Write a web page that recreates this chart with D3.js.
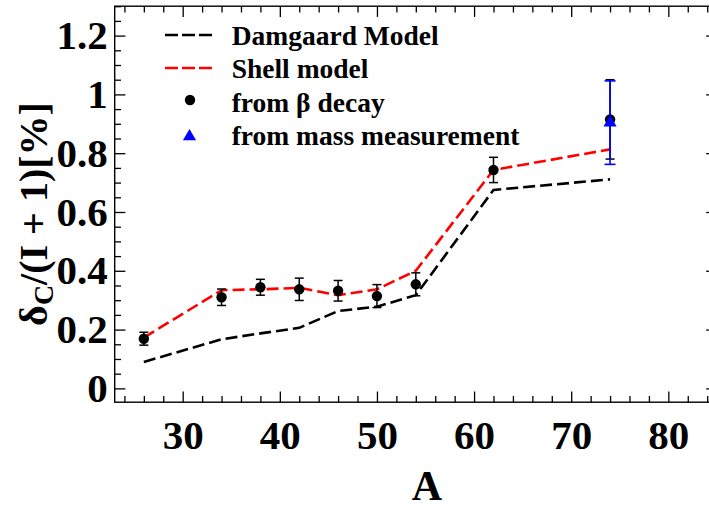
<!DOCTYPE html>
<html>
<head>
<meta charset="utf-8">
<script src="https://cdn.jsdelivr.net/npm/d3@7"></script>
<style>
  body { margin: 0; background: #fff; }
  svg { display: block; font-family: "Liberation Serif", "Times New Roman", serif; font-weight: bold; }
</style>
</head>
<body>
<script>
// mass numbers where the models and the data sit
var massA = [26, 34, 38, 42, 46, 50, 54, 62, 74];
var damgaardValues = [0.090, 0.167, 0.187, 0.206, 0.263, 0.278, 0.317, 0.675, 0.711];
var shellValues = [0.173, 0.334, 0.337, 0.342, 0.317, 0.337, 0.400, 0.743, 0.813];
var betaValues = [0.169, 0.310, 0.344, 0.337, 0.332, 0.314, 0.354, 0.743, 0.915];
var betaErrors = [0.022, 0.028, 0.027, 0.038, 0.035, 0.039, 0.039, 0.043, 0.135];
var massMeasA = [74];
var massMeasValues = [0.904];
var massMeasErrors = [0.142];

var xMajorTicks = [30, 40, 50, 60, 70, 80];
var yMajorTicks = [0, 0.2, 0.4, 0.6, 0.8, 1, 1.2];
var legendLabels = ['Damgaard Model', 'Shell model', 'from \u03b2 decay', 'from mass measurement'];

var width = 709, height = 508;
var plotLeft = 114.7, plotRight = 716.9, plotTop = 6.2, plotBottom = 402.2;

var svg = d3.select('body').append('svg').attr('width', width).attr('height', height);

var x = d3.scaleLinear().domain([23, 85]).range([plotLeft, plotRight]);
var y = d3.scaleLinear().domain([-0.047, 1.3]).range([plotBottom, plotTop]);

var xMinor = d3.range(24, 86, 2).filter(function(v) { return v % 10 !== 0; });
var yMinor = d3.range(0, 27).map(function(i) { return +(i * 0.05).toFixed(2); })
  .filter(function(v) { return Math.abs(v * 5 - Math.round(v * 5)) > 1e-6; });

var fmtY = function(d) { return d === 0 ? '0' : d === 1 ? '1' : String(d); };

function drawAxis(axis, tr, labels) {
  var g = svg.append('g').attr('transform', tr).call(axis);
  g.attr('font-family', null).attr('font-size', null);
  g.select('.domain').remove();
  g.selectAll('line').attr('stroke', '#000').attr('stroke-width', 1.3);
  if (labels) {
    g.selectAll('text').attr('font-size', 41).attr('fill', '#000');
  } else {
    g.selectAll('text').remove();
  }
  return g;
}

// bottom + top
drawAxis(d3.axisBottom(x).tickValues(xMajorTicks).tickSize(-10.7).tickPadding(18).tickFormat(d3.format('d')), 'translate(0,' + plotBottom + ')', true);
drawAxis(d3.axisBottom(x).tickValues(xMinor).tickSize(-6.3), 'translate(0,' + plotBottom + ')', false);
drawAxis(d3.axisTop(x).tickValues(xMajorTicks).tickSize(-10.7), 'translate(0,' + plotTop + ')', false);
drawAxis(d3.axisTop(x).tickValues(xMinor).tickSize(-6.3), 'translate(0,' + plotTop + ')', false);
// left + right
drawAxis(d3.axisLeft(y).tickValues(yMajorTicks).tickSize(-10.7).tickPadding(7).tickFormat(fmtY), 'translate(' + plotLeft + ',0)', true);
drawAxis(d3.axisLeft(y).tickValues(yMinor).tickSize(-6.3), 'translate(' + plotLeft + ',0)', false);
drawAxis(d3.axisRight(y).tickValues(yMajorTicks).tickSize(-10.7), 'translate(' + plotRight + ',0)', false);
drawAxis(d3.axisRight(y).tickValues(yMinor).tickSize(-6.3), 'translate(' + plotRight + ',0)', false);

svg.append('rect')
  .attr('x', plotLeft).attr('y', plotTop)
  .attr('width', plotRight - plotLeft).attr('height', plotBottom - plotTop)
  .attr('fill', 'none').attr('stroke', '#000').attr('stroke-width', 1.4);

// model curves
var line = d3.line().x(function(d) { return x(d[0]); }).y(function(d) { return y(d[1]); });

svg.append('path')
  .datum(d3.zip(massA, damgaardValues))
  .attr('d', line)
  .attr('fill', 'none').attr('stroke', '#000').attr('stroke-width', 2.6)
  .attr('stroke-dasharray', '12,5');

svg.append('path')
  .datum(d3.zip(massA, shellValues))
  .attr('d', line)
  .attr('fill', 'none').attr('stroke', '#ff0000').attr('stroke-width', 2.6)
  .attr('stroke-dasharray', '12,5');

// beta decay points with error bars
var beta = svg.append('g').selectAll('g')
  .data(d3.zip(massA, betaValues, betaErrors))
  .enter().append('g');

beta.append('line')
  .attr('x1', function(d) { return x(d[0]); }).attr('x2', function(d) { return x(d[0]); })
  .attr('y1', function(d) { return y(d[1] - d[2]); }).attr('y2', function(d) { return y(d[1] + d[2]); })
  .attr('stroke', '#000').attr('stroke-width', 1.5);
[-1, 1].forEach(function(s) {
  beta.append('line')
    .attr('x1', function(d) { return x(d[0]) - 4.5; }).attr('x2', function(d) { return x(d[0]) + 4.5; })
    .attr('y1', function(d) { return y(d[1] + s * d[2]); }).attr('y2', function(d) { return y(d[1] + s * d[2]); })
    .attr('stroke', '#000').attr('stroke-width', 1.5);
});
beta.append('circle')
  .attr('cx', function(d) { return x(d[0]); })
  .attr('cy', function(d) { return y(d[1]); })
  .attr('r', 5.2).attr('fill', '#000');

// mass measurement point
var tri = d3.symbol().type(d3.symbolTriangle).size(75);
var mass = svg.append('g').selectAll('g')
  .data(d3.zip(massMeasA, massMeasValues, massMeasErrors))
  .enter().append('g');

mass.append('line')
  .attr('x1', function(d) { return x(d[0]); }).attr('x2', function(d) { return x(d[0]); })
  .attr('y1', function(d) { return y(d[1] - d[2]); }).attr('y2', function(d) { return y(d[1] + d[2]); })
  .attr('stroke', '#0000ff').attr('stroke-width', 1.6);
[-1, 1].forEach(function(s) {
  mass.append('line')
    .attr('x1', function(d) { return x(d[0]) - 5.5; }).attr('x2', function(d) { return x(d[0]) + 5.5; })
    .attr('y1', function(d) { return y(d[1] + s * d[2]); }).attr('y2', function(d) { return y(d[1] + s * d[2]); })
    .attr('stroke', '#0000ff').attr('stroke-width', 1.6);
});
mass.append('path')
  .attr('d', tri)
  .attr('transform', function(d) { return 'translate(' + x(d[0]) + ',' + y(d[1]) + ')'; })
  .attr('fill', '#0000ff');

// legend
var legend = svg.append('g');
var rowY = [45, 78.3, 111.6, 145];
legendLabels.forEach(function(label, i) {
  legend.append('text')
    .attr('x', 231.7).attr('y', rowY[i])
    .attr('font-size', 27.5).attr('fill', '#000')
    .text(label);
});
legend.append('line').attr('x1', 165).attr('x2', 212).attr('y1', 35).attr('y2', 35)
  .attr('stroke', '#000').attr('stroke-width', 2.6).attr('stroke-dasharray', '13,4');
legend.append('line').attr('x1', 165).attr('x2', 212).attr('y1', 68).attr('y2', 68)
  .attr('stroke', '#ff0000').attr('stroke-width', 2.6).attr('stroke-dasharray', '13,4');
legend.append('circle').attr('cx', 190).attr('cy', 100).attr('r', 5.2).attr('fill', '#000');
legend.append('path').attr('d', tri).attr('transform', 'translate(189.5,136.5)').attr('fill', '#0000ff');

// axis titles
svg.append('text')
  .attr('x', 427).attr('y', 500)
  .attr('text-anchor', 'middle').attr('font-size', 42)
  .text('A');

var yt = svg.append('text')
  .attr('transform', 'translate(47,214) rotate(-90)')
  .attr('text-anchor', 'middle').attr('font-size', 40);
yt.append('tspan').text('\u03b4');
yt.append('tspan').attr('font-size', 28).attr('dy', 6).text('C');
yt.append('tspan').attr('dy', -6).text('/(I + 1)[%]');
</script>
</body>
</html>
